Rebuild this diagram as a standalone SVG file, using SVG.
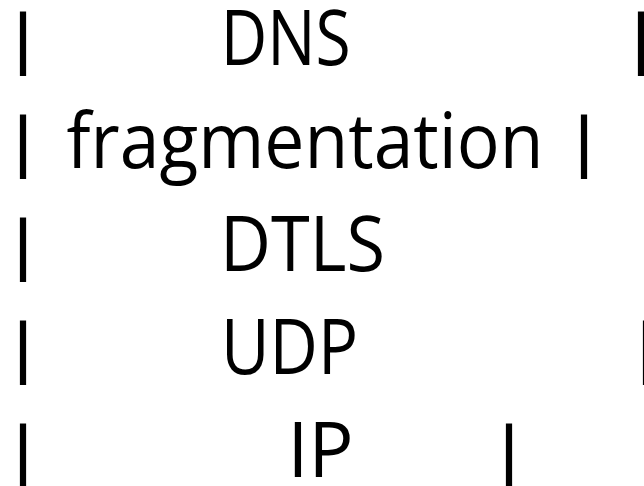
<svg xmlns="http://www.w3.org/2000/svg" width="644" height="486" viewBox="0 0 644 486">
<style>
.t{font-family:"Open Sans","Noto Sans",sans-serif;font-size:76px;fill:#000}
.p{font-family:"Open Sans","Noto Sans",sans-serif;font-size:62px;fill:#000;stroke:#000;stroke-width:2px;text-anchor:middle}
</style>
<rect width="644" height="486" fill="#fff"/>
<g id="row-dns">
<text class="p" x="23" y="60">|</text>
<text class="t" x="220.7" y="65" textLength="130" lengthAdjust="spacingAndGlyphs">DNS</text>
<text class="p" x="641" y="60">|</text>
</g>
<g id="row-fragmentation">
<text class="p" x="23" y="163">|</text>
<text class="t" x="66.6" y="168" textLength="477" lengthAdjust="spacingAndGlyphs">fragmentation</text>
<text class="p" x="584" y="163">|</text>
</g>
<g id="row-dtls">
<text class="p" x="23" y="266">|</text>
<text class="t" x="220" y="271" textLength="165" lengthAdjust="spacingAndGlyphs">DTLS</text>
</g>
<g id="row-udp">
<text class="p" x="23" y="369">|</text>
<text class="t" x="221" y="374" textLength="137" lengthAdjust="spacingAndGlyphs">UDP</text>
<text class="p" x="646" y="369">|</text>
</g>
<g id="row-ip">
<text class="p" x="23" y="472">|</text>
<text class="t" x="287.5" y="477" textLength="66" lengthAdjust="spacingAndGlyphs">IP</text>
<text class="p" x="509" y="472">|</text>
</g>
<g id="connectors"/>
</svg>
